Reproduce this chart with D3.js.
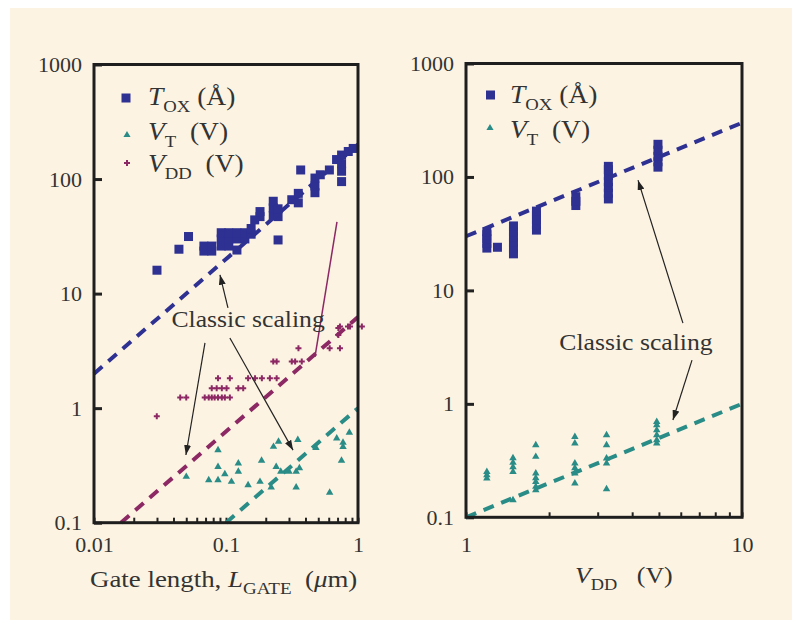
<!DOCTYPE html>
<html>
<head>
<meta charset="utf-8">
<script src="https://cdn.jsdelivr.net/npm/d3@7"></script>
<style>
  body { margin: 0; background: #fff; }
  text { font-family: "Liberation Serif", "Times New Roman", serif; fill: #333; }
</style>
</head>
<body>
<div id="chart"></div>
<script>
// ---- left panel: gate length (um) vs value ----
var toxGate = [
  [0.030, 16], [0.044, 24.4], [0.052, 31.5],
  [0.068, 23.5], [0.068, 26], [0.078, 23.5], [0.078, 26],
  [0.092, 26], [0.092, 30], [0.092, 34], [0.105, 26], [0.105, 30], [0.105, 34],
  [0.121, 24], [0.121, 30], [0.121, 34], [0.139, 30], [0.139, 34],
  [0.155, 33], [0.155, 37], [0.165, 44], [0.181, 47], [0.181, 52],
  [0.228, 48], [0.228, 56], [0.228, 64], [0.248, 47], [0.248, 55], [0.248, 29.4],
  [0.315, 66], [0.353, 62], [0.353, 75], [0.368, 120],
  [0.472, 76], [0.472, 87], [0.472, 102], [0.518, 109], [0.607, 120],
  [0.688, 148], [0.751, 162], [0.751, 136], [0.751, 117], [0.751, 95],
  [0.844, 174], [0.92, 185]
];
var vtGate = [
  [0.050, 0.252], [0.074, 0.236], [0.087, 0.431], [0.087, 0.308], [0.087, 0.236],
  [0.098, 0.266], [0.110, 0.228], [0.124, 0.330], [0.124, 0.279], [0.147, 0.213],
  [0.181, 0.228], [0.186, 0.348], [0.220, 0.204], [0.229, 0.461], [0.250, 0.510],
  [0.240, 0.308], [0.260, 0.279], [0.300, 0.279], [0.340, 0.279], [0.360, 0.300],
  [0.350, 0.528], [0.340, 0.204], [0.480, 0.450], [0.610, 0.183], [0.690, 0.546],
  [0.770, 0.500], [0.770, 0.460], [0.750, 0.348], [0.860, 0.611]
];
var vddGate = [
  [0.0299, 0.85],
  [0.045, 1.24], [0.050, 1.24], [0.069, 1.24], [0.074, 1.24], [0.078, 1.24], [0.082, 1.24],
  [0.087, 1.24], [0.093, 1.24], [0.098, 1.24], [0.107, 1.24],
  [0.078, 1.49], [0.085, 1.49], [0.093, 1.49], [0.101, 1.49], [0.124, 1.49], [0.135, 1.49],
  [0.087, 1.82], [0.107, 1.82], [0.147, 1.82], [0.166, 1.82], [0.187, 1.82], [0.215, 1.82], [0.242, 1.82],
  [0.228, 2.55], [0.242, 2.55], [0.315, 2.55], [0.334, 2.55], [0.375, 2.55],
  [0.354, 3.33], [0.61, 3.33], [0.73, 3.33],
  [0.71, 4.36], [0.71, 5.0], [0.73, 5.15], [0.84, 5.15], [0.87, 5.15], [1.07, 5.15]
];
// classic scaling lines, left panel
var toxGateLine = [[0.01, 2], [1, 200]];
var vddGateLine = [[0.016, 0.1], [1, 6.25]];
var vtGateLine = [[0.1, 0.1], [1, 1]];

// ---- right panel: VDD (V) vs value ----
var toxVdd = [
  [1.19, 23.6], [1.19, 26], [1.19, 28.5], [1.19, 31], [1.19, 33], [1.30, 24],
  [1.486, 21], [1.486, 23.5], [1.486, 26.5], [1.486, 29.5], [1.486, 33], [1.486, 37],
  [1.80, 34], [1.80, 38], [1.80, 42], [1.80, 46], [1.80, 50],
  [2.50, 56], [2.50, 61], [2.50, 67],
  [3.28, 64], [3.28, 72], [3.28, 81], [3.28, 91], [3.28, 103], [3.28, 116], [3.28, 124],
  [4.96, 122], [4.96, 136], [4.96, 152], [4.96, 172], [4.96, 194]
];
var vtVdd = [
  [1.19, 0.221], [1.19, 0.236], [1.19, 0.252],
  [1.48, 0.252], [1.48, 0.277], [1.48, 0.304], [1.48, 0.333], [1.48, 0.142],
  [1.79, 0.434], [1.79, 0.342], [1.79, 0.244], [1.79, 0.222], [1.79, 0.205], [1.79, 0.186], [1.79, 0.174],
  [2.48, 0.513], [2.48, 0.449], [2.48, 0.299], [2.48, 0.272], [2.48, 0.244], [2.48, 0.199],
  [3.23, 0.531], [3.23, 0.434], [3.23, 0.331], [3.23, 0.299], [3.23, 0.177],
  [4.91, 0.695], [4.91, 0.650], [4.91, 0.588], [4.91, 0.531], [4.91, 0.480], [4.91, 0.449]
];
var toxVddLine = [[1, 30], [10, 300]];
var vtVddLine = [[1, 0.1], [10, 1]];

// ticks
var yMajor = [0.1, 1, 10, 100, 1000];
var yLabels = ["0.1", "1", "10", "100", "1000"];
var xGateMajor = [0.01, 0.1, 1];
var xGateLabels = ["0.01", "0.1", "1"];
var xVddMajor = [1, 10];
var xVddLabels = ["1", "10"];

// annotations (data coordinates)
var noteLeft = [0.147, 5.1];
var arrowsLeft = [
  [[0.1035, 7.5], [0.090, 14.6]],
  [[0.0693, 3.71], [0.0497, 0.39]],
  [[0.107, 4.1], [0.322, 0.43]]
];
var magentaStroke = [[0.693, 42.3], [0.472, 2.8]];
var noteRight = [4.13, 2.98];
var arrowsRight = [
  [[6.11, 5.15], [4.2, 93.7]],
  [[6.59, 2.43], [5.62, 0.72]]
];

var cTox = "#2e3192", cVt = "#2a8c87", cVdd = "#8c2864", cBg = "#fdf3e2";

var svg = d3.select("#chart").append("svg")
    .attr("width", 792)
    .attr("height", 620);

svg.append("rect")
    .attr("x", 10).attr("y", 8)
    .attr("width", 782).attr("height", 612)
    .attr("fill", cBg);

svg.append("defs").append("marker")
    .attr("id", "head")
    .attr("markerUnits", "userSpaceOnUse")
    .attr("markerWidth", 11).attr("markerHeight", 7)
    .attr("refX", 10).attr("refY", 3.5)
    .attr("orient", "auto")
  .append("path")
    .attr("d", "M0,0L10,3.5L0,7z")
    .attr("fill", "#222");

function minorTicks(lo, hi) {
  var t = [];
  for (var d = lo; d < hi * 0.999; d *= 10)
    for (var k = 1; k < 10; k++) t.push(d * k);
  t.push(hi);
  return t;
}

function labelFor(majors, labels) {
  return function(d) {
    for (var i = 0; i < majors.length; i++)
      if (Math.abs(d / majors[i] - 1) < 1e-6) return labels[i];
    return "";
  };
}

// text that is a little wider than the font, like the scanned figure
function wideText(x, y, sx, size) {
  return svg.append("text")
      .attr("transform", "translate(" + x + "," + y + ") scale(" + sx + ",1)")
      .style("font-size", size + "px");
}

function panel(x, y, xMajor, xLabels, xPad) {
  var g = svg.append("g");
  var x0 = x.range()[0], y0 = y.range()[0];

  var xa = g.append("g")
      .attr("transform", "translate(0," + y0 + ")")
      .call(d3.axisBottom(x)
        .tickValues(minorTicks(xMajor[0], xMajor[xMajor.length - 1]))
        .tickSize(-5)
        .tickPadding(xPad)
        .tickFormat(labelFor(xMajor, xLabels)));
  xa.select(".domain").remove();
  xa.selectAll("line").attr("stroke", "#222").attr("stroke-width", 2);

  var ya = g.append("g")
      .attr("transform", "translate(" + x0 + ",0)")
      .call(d3.axisLeft(y)
        .tickValues(yMajor)
        .tickSize(-8)
        .tickPadding(12)
        .tickFormat(labelFor(yMajor, yLabels)));
  ya.select(".domain").remove();
  ya.selectAll("line").attr("stroke", "#222").attr("stroke-width", 3);

  g.selectAll(".tick text")
      .attr("fill", "#333")
      .style("font-family", '"Liberation Serif", serif')
      .style("font-size", "22px");

  return g;
}

function frame(x, y) {
  svg.append("rect")
      .attr("x", x.range()[0]).attr("y", y.range()[1])
      .attr("width", x.range()[1] - x.range()[0])
      .attr("height", y.range()[0] - y.range()[1])
      .attr("fill", "none")
      .attr("stroke", "#1e1e1e")
      .attr("stroke-width", 3);
}

function dashLine(x, y, pts, col) {
  svg.append("path")
      .datum(pts)
      .attr("d", d3.line().x(function(d) { return x(d[0]); }).y(function(d) { return y(d[1]); }))
      .attr("fill", "none")
      .attr("stroke", col)
      .attr("stroke-width", 4)
      .attr("stroke-dasharray", "11,8");
}

function squares(x, y, pts) {
  svg.append("g").selectAll("rect")
      .data(pts).enter().append("rect")
      .attr("x", function(d) { return x(d[0]) - 4.5; })
      .attr("y", function(d) { return y(d[1]) - 4.5; })
      .attr("width", 9).attr("height", 9)
      .attr("fill", cTox);
}

function symbols(x, y, pts, type, size, col) {
  svg.append("g").selectAll("path")
      .data(pts).enter().append("path")
      .attr("d", d3.symbol().type(type).size(size))
      .attr("transform", function(d) { return "translate(" + x(d[0]) + "," + y(d[1]) + ")"; })
      .attr("fill", col);
}

function arrows(x, y, list) {
  svg.append("g").selectAll("line")
      .data(list).enter().append("line")
      .attr("x1", function(d) { return x(d[0][0]); })
      .attr("y1", function(d) { return y(d[0][1]); })
      .attr("x2", function(d) { return x(d[1][0]); })
      .attr("y2", function(d) { return y(d[1][1]); })
      .attr("stroke", "#222")
      .attr("stroke-width", 1.2)
      .attr("marker-end", "url(#head)");
}

function note(x, y, p) {
  wideText(x(p[0]), y(p[1]), 1.07, 24)
      .attr("text-anchor", "middle")
      .text("Classic scaling");
}

function legendRow(mx, my, tx, ty, kind, main, sub, tail) {
  if (kind === "sq") {
    svg.append("rect").attr("x", mx - 4.5).attr("y", my - 4.5)
        .attr("width", 9).attr("height", 9).attr("fill", cTox);
  } else {
    svg.append("path")
        .attr("d", d3.symbol().type(kind === "tri" ? d3.symbolTriangle : d3.symbolCross).size(kind === "tri" ? 22 : 20))
        .attr("transform", "translate(" + mx + "," + my + ")")
        .attr("fill", kind === "tri" ? cVt : cVdd);
  }
  var t = wideText(tx, ty, 1.1, 25);
  t.append("tspan").style("font-style", "italic").text(main);
  t.append("tspan").attr("dy", 7).style("font-size", "17px").text(sub);
  t.append("tspan").attr("dy", -7).attr("xml:space", "preserve").text(tail);
}

// ---------- left panel ----------
var xL = d3.scaleLog().domain([0.01, 1]).range([94, 358]);
var yL = d3.scaleLog().domain([0.1, 1000]).range([522.7, 64.5]);
panel(xL, yL, xGateMajor, xGateLabels, 14);

dashLine(xL, yL, toxGateLine, cTox);
dashLine(xL, yL, vddGateLine, cVdd);
dashLine(xL, yL, vtGateLine, cVt);
squares(xL, yL, toxGate);
symbols(xL, yL, vddGate, d3.symbolCross, 20, cVdd);
symbols(xL, yL, vtGate, d3.symbolTriangle, 24, cVt);

svg.append("line")
    .attr("x1", xL(magentaStroke[0][0])).attr("y1", yL(magentaStroke[0][1]))
    .attr("x2", xL(magentaStroke[1][0])).attr("y2", yL(magentaStroke[1][1]))
    .attr("stroke", cVdd).attr("stroke-width", 1.5);

arrows(xL, yL, arrowsLeft);
note(xL, yL, noteLeft);
frame(xL, yL);

legendRow(126, 98, 148, 105, "sq", "T", "OX", " (\u00c5)");
legendRow(127, 135, 148, 140, "tri", "V", "T", "  (V)");
legendRow(127, 163, 148, 172, "dia", "V", "DD", "  (V)");

var tl = wideText(90, 587, 1.12, 24);
tl.append("tspan").text("Gate length, ");
tl.append("tspan").style("font-style", "italic").text("L");
tl.append("tspan").attr("dy", 7).style("font-size", "17px").text("GATE");
tl.append("tspan").attr("dy", -7).attr("xml:space", "preserve").text("  (");
tl.append("tspan").style("font-style", "italic").text("\u03bc");
tl.append("tspan").text("m)");

// ---------- right panel ----------
var xR = d3.scaleLog().domain([1, 10]).range([466, 742]);
var yR = d3.scaleLog().domain([0.1, 1000]).range([517.3, 63.5]);
panel(xR, yR, xVddMajor, xVddLabels, 19);

squares(xR, yR, toxVdd);
symbols(xR, yR, vtVdd, d3.symbolTriangle, 24, cVt);
dashLine(xR, yR, toxVddLine, cTox);
dashLine(xR, yR, vtVddLine, cVt);

arrows(xR, yR, arrowsRight);
note(xR, yR, noteRight);
frame(xR, yR);

legendRow(490.5, 95, 510, 103, "sq", "T", "OX", " (\u00c5)");
legendRow(490, 128, 510, 138, "tri", "V", "T", "  (V)");

var tr = wideText(575, 583, 1.08, 24);
tr.append("tspan").style("font-style", "italic").text("V");
tr.append("tspan").attr("dy", 7).style("font-size", "17px").text("DD");
tr.append("tspan").attr("dy", -7).attr("xml:space", "preserve").text("   (V)");
</script>
</body>
</html>
